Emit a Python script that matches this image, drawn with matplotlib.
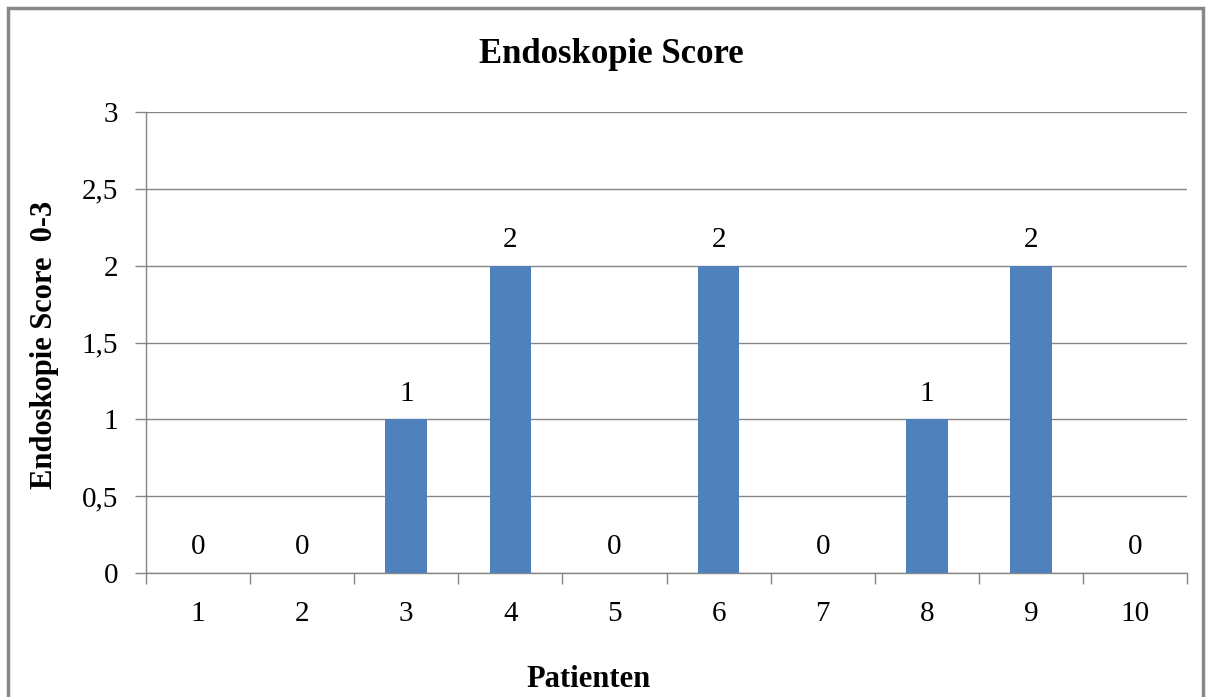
#!/usr/bin/env python3
# Endoskopie score per patient, Excel-style column chart

import numpy as np
from matplotlib import pyplot as plt
from matplotlib.patches import Rectangle

patients = ["1", "2", "3", "4", "5", "6", "7", "8", "9", "10"]
scores = [0, 0, 1, 2, 0, 2, 0, 1, 2, 0]
yTicks = [0, 0.5, 1, 1.5, 2, 2.5, 3]
yTickLabels = ["0", "0,5", "1", "1,5", "2", "2,5", "3"]

plt.rcParams["font.family"] = ["Liberation Serif", "DejaVu Serif"]
gridColor = "#868686"
barColor = "#4f81bd"
labelSize = 21

fig = plt.figure()
px = 1/plt.rcParams["figure.dpi"]
fig.set_size_inches(1211*px, 697*px)
ax = fig.add_axes([146/1211, 1-573/697, (1187-146)/1211, (573-112)/697])

x = np.arange(len(patients))
ax.bar(x, scores, width=0.4, color=barColor, zorder=3)
for xi, val in zip(x, scores):
    ax.annotate(f"{val}", (xi, val), xytext=(0, 9), textcoords="offset points",
                ha="center", va="bottom", fontsize=labelSize)

ax.set_xlim(-0.5, len(patients)-0.5)
ax.set_ylim(0, 3)
ax.set_yticks(yTicks)
ax.set_yticklabels(yTickLabels, fontsize=labelSize)
ax.yaxis.grid(True, color=gridColor, linewidth=1, zorder=0)
ax.set_xticks(x)
ax.set_xticklabels(patients, fontsize=labelSize)
ax.tick_params(axis="x", length=0, pad=20)
ax.set_xticks(np.arange(-0.5, len(patients)), minor=True)
ax.tick_params(axis="x", which="minor", length=8, color=gridColor, width=1)
ax.tick_params(axis="y", length=8, color=gridColor, width=1, pad=12)
for side in ["top", "right"]:
    ax.spines[side].set_visible(False)
for side in ["left", "bottom"]:
    ax.spines[side].set_color(gridColor)
    ax.spines[side].set_linewidth(1)

fig.text(611/1211, 1-63/697, "Endoskopie Score", fontsize=25, fontweight="bold",
         ha="center", va="baseline")
fig.text(45/1211, 1-345/697, "Endoskopie Score  0-3", fontsize=22, fontweight="bold",
         ha="center", va="center", rotation=90)
fig.text(589/1211, 1-687/697, "Patienten", fontsize=22, fontweight="bold",
         ha="center", va="baseline")

# chart frame
fig.patches.append(Rectangle((8/1211, -0.05), (1203-8)/1211, 1-8/697+0.05,
                             transform=fig.transFigure, fill=False, edgecolor="#888888", linewidth=2.5))

fig.savefig("out.png")
plt.close(fig)
